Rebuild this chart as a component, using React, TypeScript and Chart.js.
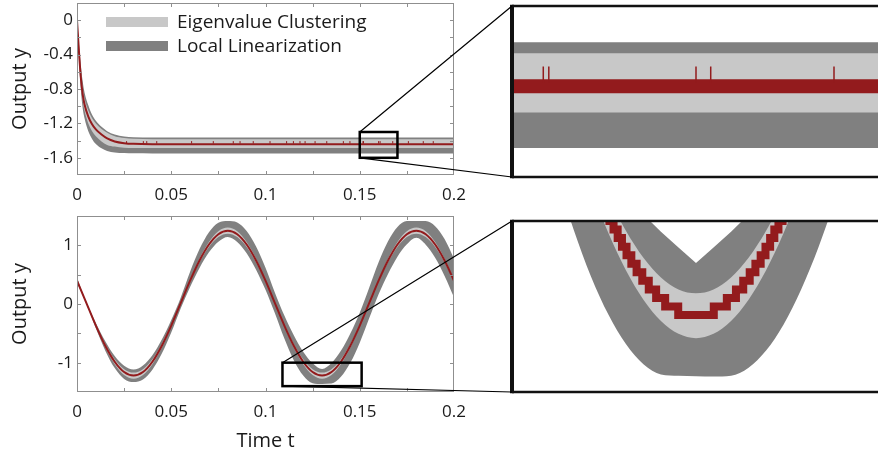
import React, { useEffect, useRef } from 'react';
import { Chart, registerables } from 'chart.js';
Chart.register(...registerables);

const FONT = "'Open Sans', 'DejaVu Sans', sans-serif";
const RED = '#931b1d';
const LIGHT = '#c8c8c8';
const DARK = '#808080';
const INK = '#1a1a1a';
Chart.defaults.font.family = FONT;
Chart.defaults.color = INK;

// ---------- top panel: step response ----------
const stepT = [0, 0.001, 0.002, 0.003, 0.004, 0.006, 0.008, 0.01, 0.013, 0.016, 0.02, 0.025, 0.03, 0.04, 0.06, 0.08, 0.1, 0.12, 0.14, 0.16, 0.18, 0.2];
const stepRed = [0, -0.35, -0.66, -0.86, -0.98, -1.12, -1.21, -1.27, -1.33, -1.375, -1.41, -1.43, -1.438, -1.441, -1.441, -1.441, -1.441, -1.441, -1.441, -1.441, -1.441, -1.441];
const stepLightUp = [0, -0.31, -0.6, -0.79, -0.91, -1.05, -1.14, -1.2, -1.265, -1.31, -1.35, -1.37, -1.379, -1.383, -1.383, -1.383, -1.383, -1.383, -1.383, -1.383, -1.383, -1.383];
const stepLightDn = [0, -0.39, -0.72, -0.93, -1.05, -1.2, -1.29, -1.35, -1.41, -1.45, -1.47, -1.482, -1.486, -1.487, -1.487, -1.487, -1.487, -1.487, -1.487, -1.487, -1.487, -1.487];
const stepDarkUp = [0, -0.27, -0.52, -0.71, -0.84, -0.99, -1.1, -1.17, -1.24, -1.29, -1.33, -1.352, -1.36, -1.3635, -1.3635, -1.3635, -1.3635, -1.3635, -1.3635, -1.3635, -1.3635, -1.3635];
const stepDarkDn = [0, -0.44, -0.8, -1.02, -1.14, -1.29, -1.38, -1.44, -1.49, -1.52, -1.538, -1.545, -1.548, -1.549, -1.549, -1.549, -1.549, -1.549, -1.549, -1.549, -1.549, -1.549];
const spikeT = [0.0263, 0.0352, 0.037, 0.0423, 0.0608, 0.0723, 0.0829, 0.0865, 0.0935, 0.1024, 0.1112, 0.1148, 0.1183, 0.121, 0.1263, 0.1325, 0.1413, 0.1448, 0.1517, 0.152, 0.16, 0.1608, 0.1675, 0.1758, 0.1837, 0.189];
const spikeLevels = [-1.435, -1.406];

// ---------- bottom panel: sinusoidal response ----------
const sineT = [0, 0.005, 0.01, 0.015, 0.02, 0.025, 0.03, 0.035, 0.04, 0.045, 0.05, 0.055, 0.06, 0.065, 0.07, 0.075, 0.08, 0.085, 0.09, 0.095, 0.1, 0.105, 0.11, 0.115, 0.12, 0.125, 0.13, 0.135, 0.14, 0.145, 0.15, 0.155, 0.16, 0.165, 0.17, 0.175, 0.18, 0.185, 0.19, 0.195, 0.2];
const sineRed = [0.397, 0.015, -0.367, -0.711, -0.984, -1.16, -1.22, -1.16, -0.984, -0.711, -0.367, 0.015, 0.397, 0.741, 1.014, 1.19, 1.25, 1.19, 1.014, 0.741, 0.397, 0.015, -0.367, -0.711, -0.984, -1.16, -1.22, -1.16, -0.984, -0.711, -0.367, 0.015, 0.397, 0.741, 1.014, 1.19, 1.25, 1.19, 1.014, 0.741, 0.397];
const sineLightUp = [0.413, 0.015, -0.351, -0.681, -0.943, -1.111, -1.169, -1.111, -0.943, -0.681, -0.351, 0.015, 0.413, 0.773, 1.058, 1.241, 1.304, 1.241, 1.058, 0.773, 0.413, 0.015, -0.351, -0.681, -0.943, -1.111, -1.169, -1.111, -0.943, -0.681, -0.351, 0.015, 0.413, 0.773, 1.058, 1.241, 1.304, 1.241, 1.058, 0.773, 0.413];
const sineLightDn = [0.381, 0.015, -0.383, -0.743, -1.028, -1.211, -1.274, -1.211, -1.028, -0.743, -0.383, 0.015, 0.381, 0.711, 0.973, 1.141, 1.199, 1.141, 0.973, 0.711, 0.381, 0.015, -0.383, -0.743, -1.028, -1.211, -1.274, -1.211, -1.028, -0.743, -0.383, 0.015, 0.381, 0.711, 0.973, 1.141, 1.199, 1.141, 0.973, 0.711, 0.381];
const sineDarkUp = [0.448, 0.024, -0.322, -0.635, -0.886, -1.051, -1.115, -1.047, -0.872, -0.605, -0.273, 0.108, 0.55, 0.936, 1.224, 1.386, 1.415, 1.39, 1.244, 0.979, 0.616, 0.193, -0.198, -0.534, -0.813, -1.01, -1.107, -1.006, -0.798, -0.502, -0.148, 0.277, 0.713, 1.071, 1.313, 1.413, 1.415, 1.414, 1.327, 1.108, 0.775];
const sineDarkDn = [0.364, 0.007, -0.415, -0.795, -1.093, -1.277, -1.33, -1.286, -1.119, -0.845, -0.485, -0.075, 0.291, 0.615, 0.881, 1.062, 1.142, 1.058, 0.866, 0.584, 0.241, -0.159, -0.59, -0.957, -1.219, -1.349, -1.363, -1.356, -1.242, -1.003, -0.659, -0.244, 0.165, 0.511, 0.805, 1.017, 1.129, 1.012, 0.788, 0.479, 0.115];

// ---------- bottom magnified view ----------
const zoomT = [0.108, 0.11, 0.112, 0.114, 0.116, 0.118, 0.12, 0.122, 0.124, 0.126, 0.128, 0.13, 0.132, 0.134, 0.136, 0.138, 0.14, 0.142, 0.144, 0.146, 0.148, 0.15, 0.152];
const zoomLightUp = [-0.207, -0.351, -0.489, -0.619, -0.74, -0.848, -0.943, -1.023, -1.086, -1.132, -1.16, -1.169, -1.16, -1.132, -1.086, -1.023, -0.943, -0.848, -0.74, -0.619, -0.489, -0.351, -0.207];
const zoomLightDn = [-0.227, -0.383, -0.534, -0.676, -0.807, -0.925, -1.028, -1.115, -1.184, -1.234, -1.264, -1.274, -1.264, -1.234, -1.184, -1.115, -1.028, -0.925, -0.807, -0.676, -0.534, -0.383, -0.227];
const zoomDarkUp = [-0.056, -0.198, -0.337, -0.47, -0.595, -0.71, -0.814, -0.904, -0.985, -1.025, -1.062, -1.098, -1.062, -1.025, -0.985, -0.904, -0.814, -0.71, -0.595, -0.47, -0.337, -0.198, -0.056];
const zoomDarkDn = [-0.423, -0.59, -0.747, -0.891, -1.018, -1.129, -1.219, -1.288, -1.335, -1.359, -1.362, -1.363, -1.364, -1.362, -1.343, -1.303, -1.242, -1.16, -1.06, -0.942, -0.807, -0.659, -0.5];
const zoomStepT = [0.11927, 0.1197, 0.12012, 0.12059, 0.12106, 0.12155, 0.12207, 0.12262, 0.12322, 0.12387, 0.12461, 0.12545, 0.12648, 0.12797, 0.13203, 0.13352, 0.13456, 0.13539, 0.13613, 0.13678, 0.13738, 0.13793, 0.13846, 0.13894, 0.13941, 0.13988, 0.1403, 0.14073];
const zoomStepY = [-0.96, -0.98, -1.0, -1.02, -1.04, -1.06, -1.08, -1.1, -1.12, -1.14, -1.16, -1.18, -1.2, -1.22, -1.2, -1.18, -1.16, -1.14, -1.12, -1.1, -1.08, -1.06, -1.04, -1.02, -1.0, -0.98, -0.96, -0.94];

// ---------- zoom windows ----------
const topZoomT = [0.15, 0.17];
const topZoomY = [-1.6, -1.3];
const botZoomT = [0.109, 0.151];
const botZoomY = [-1.4, -1.0];

// ---------- axis ranges / ticks ----------
const topYRange = [-1.8, 0.2];
const botYRange = [-1.5, 1.5];
const tRange = [0, 0.2];
const legendLabels = ['Eigenvalue Clustering', 'Local Linearization'];
const axisTitles = { x: 'Time t', y: 'Output y' };

const POS = {
  c1: { left: 0, top: 0, w: 470, h: 205 },
  c2: { left: 0, top: 205, w: 470, h: 250 },
  c3: { left: 500, top: 0, w: 382, h: 190 },
  c4: { left: 500, top: 205, w: 382, h: 250 },
};

const pts = (xs: number[], ys: (number | null)[]) => xs.map((x, i) => ({ x, y: ys[i] }));
const isMult = (v: number, m: number) => Math.abs(v / m - Math.round(v / m)) < 1e-6;
const fmt = (v: number) => {
  const r = Math.round(v * 1000) / 1000;
  return r === 0 ? '0' : String(r);
};

function band(t: number[], up: number[], dn: number[], color: string, order: number, extra: any = {}, upStyle: any = {}) {
  const common = { pointRadius: 0, borderWidth: 0, borderColor: 'transparent', cubicInterpolationMode: 'monotone', order };
  return [
    { ...common, ...upStyle, ...extra, data: pts(t, up), fill: '+1', backgroundColor: color },
    { ...common, data: pts(t, dn), fill: false, backgroundColor: color },
  ];
}

function spikeData() {
  const out: any[] = [];
  spikeT.forEach((t) => {
    out.push({ x: t, y: spikeLevels[0] }, { x: t, y: spikeLevels[1] }, { x: t, y: null });
  });
  return out;
}

const frameTicks = {
  id: 'frameTicks',
  afterDatasetsDraw(chart: any) {
    const { ctx, chartArea } = chart;
    const { left, right, top, bottom } = chartArea;
    ctx.save();
    ctx.strokeStyle = '#8f8f8f';
    ctx.lineWidth = 1;
    ctx.strokeRect(left + 0.5, top + 0.5, right - left - 1, bottom - top - 1);
    const L = 4;
    ctx.beginPath();
    const xs = chart.scales.x;
    xs.ticks.forEach((tk: any) => {
      const p = Math.round(xs.getPixelForValue(tk.value)) + 0.5;
      if (p <= left + 1 || p >= right - 1) return;
      ctx.moveTo(p, bottom); ctx.lineTo(p, bottom - L);
      ctx.moveTo(p, top); ctx.lineTo(p, top + L);
    });
    const ys = chart.scales.y;
    ys.ticks.forEach((tk: any) => {
      const p = Math.round(ys.getPixelForValue(tk.value)) + 0.5;
      if (p <= top + 1 || p >= bottom - 1) return;
      ctx.moveTo(left, p); ctx.lineTo(left + L, p);
      ctx.moveTo(right, p); ctx.lineTo(right - L, p);
    });
    ctx.stroke();
    ctx.restore();
  },
};

const bandLegend = {
  id: 'bandLegend',
  afterDraw(chart: any) {
    const items = chart.data.datasets.filter((d: any) => d.inLegend).sort((a: any, b: any) => a.legendRank - b.legendRank);
    const { ctx, chartArea } = chart;
    ctx.save();
    ctx.font = `19px ${FONT}`;
    ctx.textBaseline = 'middle';
    ctx.textAlign = 'left';
    items.forEach((d: any, i: number) => {
      const y = chartArea.top + 14 + i * 24;
      ctx.fillStyle = d.backgroundColor;
      ctx.fillRect(chartArea.left + 29, y, 62, 10);
      ctx.fillStyle = INK;
      ctx.fillText(d.label, chartArea.left + 100, y + 6);
    });
    ctx.restore();
  },
};

const zoomFrame = {
  id: 'zoomFrame',
  afterDraw(chart: any) {
    const { ctx, chartArea } = chart;
    const { left, right, top, bottom } = chartArea;
    ctx.save();
    ctx.strokeStyle = '#111';
    ctx.lineWidth = 2.5;
    ctx.beginPath();
    ctx.moveTo(left, top); ctx.lineTo(right + 10, top);
    ctx.moveTo(left, bottom); ctx.lineTo(right + 10, bottom);
    ctx.stroke();
    ctx.lineWidth = 4;
    ctx.beginPath();
    ctx.moveTo(left, top - 1.25); ctx.lineTo(left, bottom + 1.25);
    ctx.stroke();
    ctx.restore();
  },
};

function mainOptions(o: { yRange: number[]; yStep: number; yLabelStep: number; yLabelRange: number[]; xTitle?: string; padTop: number; xH: number }) {
  return {
    responsive: false,
    animation: false,
    devicePixelRatio: 1,
    layout: { padding: { top: o.padTop, right: 16, bottom: 0, left: 0 } },
    plugins: { legend: { display: false }, tooltip: { enabled: false } },
    scales: {
      x: {
        type: 'linear', min: tRange[0], max: tRange[1], offset: false,
        grid: { display: false, drawTicks: false }, border: { display: false },
        ticks: {
          stepSize: 0.025, autoSkip: false, maxRotation: 0, padding: 10, color: INK,
          font: { family: FONT, size: 17 },
          callback: (v: number) => (isMult(v, 0.05) ? fmt(v) : ''),
        },
        title: o.xTitle
          ? { display: true, text: o.xTitle, color: INK, font: { family: FONT, size: 20 }, padding: { top: 0, bottom: 2 } }
          : { display: false },
        afterFit: (s: any) => { s.height = o.xH; s.paddingLeft = 0; s.paddingRight = 0; },
      },
      y: {
        type: 'linear', min: o.yRange[0], max: o.yRange[1],
        grid: { display: false, drawTicks: false }, border: { display: false },
        ticks: {
          stepSize: o.yStep, autoSkip: false, padding: 4, color: INK,
          font: { family: FONT, size: 17 },
          callback: (v: number) =>
            isMult(v, o.yLabelStep) && v >= o.yLabelRange[0] - 1e-9 && v <= o.yLabelRange[1] + 1e-9 ? fmt(v) : '',
        },
        title: { display: true, text: axisTitles.y, color: INK, font: { family: FONT, size: 20 }, padding: { top: 8, bottom: 0 } },
        afterFit: (s: any) => { s.width = 77; s.paddingTop = 0; s.paddingBottom = 0; },
      },
    },
  };
}

function zoomOptions(xr: number[], yr: number[], padTop: number, padBottom: number) {
  return {
    responsive: false,
    animation: false,
    devicePixelRatio: 1,
    layout: { padding: { top: padTop, right: 2, bottom: padBottom, left: 12 } },
    plugins: { legend: { display: false }, tooltip: { enabled: false } },
    scales: {
      x: { type: 'linear', display: false, min: xr[0], max: xr[1], offset: false },
      y: { type: 'linear', display: false, min: yr[0], max: yr[1] },
    },
  };
}

function topDatasets(redWidth: number, spikeWidth: number) {
  return [
    ...band(stepT, stepDarkUp, stepDarkDn, DARK, 3, { label: legendLabels[1], inLegend: true, legendRank: 2 }),
    ...band(stepT, stepLightUp, stepLightDn, LIGHT, 2, { label: legendLabels[0], inLegend: true, legendRank: 1 }),
    { data: pts(stepT, stepRed), borderColor: RED, borderWidth: redWidth, pointRadius: 0, cubicInterpolationMode: 'monotone', fill: false, order: 1, clip: 0 },
    { data: spikeData(), borderColor: RED, borderWidth: spikeWidth, pointRadius: 0, tension: 0, spanGaps: false, fill: false, order: 0 },
  ];
}

export default function App() {
  const r1 = useRef<HTMLCanvasElement>(null);
  const r2 = useRef<HTMLCanvasElement>(null);
  const r3 = useRef<HTMLCanvasElement>(null);
  const r4 = useRef<HTMLCanvasElement>(null);
  const rov = useRef<HTMLCanvasElement>(null);

  useEffect(() => {
    const c1 = new Chart(r1.current as any, {
      type: 'line',
      data: { datasets: topDatasets(2, 1) as any },
      options: mainOptions({ yRange: topYRange, yStep: 0.2, yLabelStep: 0.4, yLabelRange: [-1.6, 0], padTop: 3, xH: 30 }) as any,
      plugins: [frameTicks, bandLegend],
    });
    const c2 = new Chart(r2.current as any, {
      type: 'line',
      data: {
        datasets: [
          ...band(sineT, sineDarkUp, sineDarkDn, DARK, 3),
          ...band(sineT, sineLightUp, sineLightDn, LIGHT, 2),
          { data: pts(sineT, sineRed), borderColor: RED, borderWidth: 2, pointRadius: 0, cubicInterpolationMode: 'monotone', fill: false, order: 1 },
        ] as any,
      },
      options: mainOptions({ yRange: botYRange, yStep: 0.5, yLabelStep: 1, yLabelRange: [-1, 1], xTitle: axisTitles.x, padTop: 11, xH: 63 }) as any,
      plugins: [frameTicks],
    });
    const c3 = new Chart(r3.current as any, {
      type: 'line',
      data: { datasets: topDatasets(14, 1.5) as any },
      options: zoomOptions(topZoomT, topZoomY, 6, 13) as any,
      plugins: [zoomFrame],
    });
    const c4 = new Chart(r4.current as any, {
      type: 'line',
      data: {
        datasets: [
          ...band(zoomT, zoomDarkUp, zoomDarkDn, DARK, 3, {}, { cubicInterpolationMode: 'default', tension: 0 }),
          ...band(zoomT, zoomLightUp, zoomLightDn, LIGHT, 2),
          { data: pts(zoomStepT, zoomStepY), borderColor: RED, borderWidth: 8, pointRadius: 0, stepped: true, borderCapStyle: 'butt', borderJoinStyle: 'miter', fill: false, order: 1, clip: 0 },
        ] as any,
      },
      options: zoomOptions(botZoomT, botZoomY, 16, 63) as any,
      plugins: [zoomFrame],
    });

    const ov = rov.current!.getContext('2d')!;
    ov.clearRect(0, 0, 878, 455);
    const drawBox = (main: any, mp: any, xr: number[], yr: number[], panel: any, pp: any) => {
      const x0 = mp.left + main.scales.x.getPixelForValue(xr[0]);
      const x1 = mp.left + main.scales.x.getPixelForValue(xr[1]);
      const y0 = mp.top + main.scales.y.getPixelForValue(yr[1]);
      const y1 = mp.top + main.scales.y.getPixelForValue(yr[0]);
      const pl = pp.left + panel.chartArea.left;
      const pt = pp.top + panel.chartArea.top;
      const pb = pp.top + panel.chartArea.bottom;
      ov.strokeStyle = '#000';
      ov.lineWidth = 1.2;
      ov.beginPath();
      ov.moveTo(x0, y0); ov.lineTo(pl, pt);
      ov.moveTo(x0, y1); ov.lineTo(pl, pb);
      ov.stroke();
      ov.lineWidth = 2.5;
      ov.strokeRect(x0, y0, x1 - x0, y1 - y0);
    };
    drawBox(c1, POS.c1, topZoomT, topZoomY, c3, POS.c3);
    drawBox(c2, POS.c2, botZoomT, botZoomY, c4, POS.c4);

    return () => {
      c1.destroy(); c2.destroy(); c3.destroy(); c4.destroy();
      ov.clearRect(0, 0, 878, 455);
    };
  }, []);

  const cs = (p: any) => ({ position: 'absolute' as const, left: p.left, top: p.top, width: p.w, height: p.h });
  return (
    <div style={{ position: 'absolute', left: 0, top: 0, width: 878, height: 455, overflow: 'hidden', background: '#fff' }}>
      <canvas ref={r1} width={POS.c1.w} height={POS.c1.h} style={cs(POS.c1)} />
      <canvas ref={r2} width={POS.c2.w} height={POS.c2.h} style={cs(POS.c2)} />
      <canvas ref={r3} width={POS.c3.w} height={POS.c3.h} style={cs(POS.c3)} />
      <canvas ref={r4} width={POS.c4.w} height={POS.c4.h} style={cs(POS.c4)} />
      <canvas ref={rov} width={878} height={455} style={{ position: 'absolute', left: 0, top: 0, width: 878, height: 455, pointerEvents: 'none' }} />
    </div>
  );
}
